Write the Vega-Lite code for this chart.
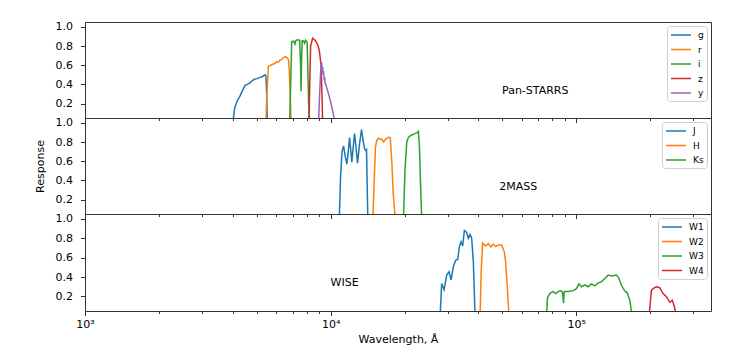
{
  "$schema": "https://vega.github.io/schema/vega-lite/v6.json",
  "padding": {"left": 33, "top": 20, "right": 0, "bottom": 0},
  "spacing": 0,
  "bounds": "flush",
  "config": {
    "font": "DejaVu Sans",
    "view": {"stroke": "#333", "strokeWidth": 1},
    "axis": {"grid": false, "domain": false, "labelFont": "DejaVu Sans", "labelFontSize": 11, "labelColor": "#000", "tickColor": "#333", "titleFont": "DejaVu Sans", "titleFontSize": 11, "titleFontWeight": "normal", "titleColor": "#000", "labelFlush": false},
    "legend": {"orient": "top-right", "offset": 4, "labelFont": "DejaVu Sans", "labelFontSize": 9, "labelColor": "#000", "symbolType": "M-2,0L2,0", "symbolSize": 100, "symbolStrokeWidth": 1.5, "symbolOffset": 5, "labelOffset": 11, "rowPadding": 3.5, "padding": 3, "strokeColor": "#d0d0d0", "fillColor": "#ffffff", "cornerRadius": 3}
  },
  "datasets": {
    "ps": [
      {"band":"g","wl":3996,"resp":0},{"band":"g","wl":4073,"resp":0.16},{"band":"g","wl":4169,"resp":0.23},{"band":"g","wl":4279,"resp":0.28},{"band":"g","wl":4368,"resp":0.33},{"band":"g","wl":4484,"resp":0.39},{"band":"g","wl":4578,"resp":0.40},{"band":"g","wl":4699,"resp":0.415},{"band":"g","wl":4797,"resp":0.44},{"band":"g","wl":4924,"resp":0.456},{"band":"g","wl":5026,"resp":0.46},{"band":"g","wl":5160,"resp":0.473},{"band":"g","wl":5266,"resp":0.48},{"band":"g","wl":5407,"resp":0.50},{"band":"g","wl":5452,"resp":0.49},{"band":"g","wl":5493,"resp":0.3},{"band":"g","wl":5525,"resp":0},
      {"band":"r","wl":5452,"resp":0},{"band":"r","wl":5505,"resp":0.3},{"band":"r","wl":5580,"resp":0.59},{"band":"r","wl":5705,"resp":0.60},{"band":"r","wl":5850,"resp":0.612},{"band":"r","wl":5950,"resp":0.62},{"band":"r","wl":6034,"resp":0.639},{"band":"r","wl":6131,"resp":0.63},{"band":"r","wl":6224,"resp":0.653},{"band":"r","wl":6322,"resp":0.66},{"band":"r","wl":6424,"resp":0.68},{"band":"r","wl":6564,"resp":0.69},{"band":"r","wl":6730,"resp":0.663},{"band":"r","wl":6787,"resp":0.55},{"band":"r","wl":6845,"resp":0.3},{"band":"r","wl":6908,"resp":0},
      {"band":"i","wl":6812,"resp":0},{"band":"i","wl":6896,"resp":0.5},{"band":"i","wl":6943,"resp":0.846},{"band":"i","wl":7072,"resp":0.85},{"band":"i","wl":7159,"resp":0.82},{"band":"i","wl":7227,"resp":0.86},{"band":"i","wl":7344,"resp":0.865},{"band":"i","wl":7482,"resp":0.86},{"band":"i","wl":7552,"resp":0.6},{"band":"i","wl":7581,"resp":0.33},{"band":"i","wl":7610,"resp":0.6},{"band":"i","wl":7659,"resp":0.855},{"band":"i","wl":7768,"resp":0.85},{"band":"i","wl":7841,"resp":0.83},{"band":"i","wl":7901,"resp":0.86},{"band":"i","wl":8027,"resp":0.84},{"band":"i","wl":8087,"resp":0.5},{"band":"i","wl":8141,"resp":0.2},{"band":"i","wl":8216,"resp":0},
      {"band":"z","wl":8164,"resp":0},{"band":"z","wl":8240,"resp":0.5},{"band":"z","wl":8292,"resp":0.8},{"band":"z","wl":8449,"resp":0.881},{"band":"z","wl":8610,"resp":0.865},{"band":"z","wl":8773,"resp":0.836},{"band":"z","wl":8896,"resp":0.80},{"band":"z","wl":8999,"resp":0.75},{"band":"z","wl":9068,"resp":0.68},{"band":"z","wl":9135,"resp":0.612},{"band":"z","wl":9194,"resp":0.4},{"band":"z","wl":9246,"resp":0.2},{"band":"z","wl":9281,"resp":0},
      {"band":"y","wl":8937,"resp":0},{"band":"y","wl":9022,"resp":0.3},{"band":"y","wl":9135,"resp":0.60},{"band":"y","wl":9194,"resp":0.63},{"band":"y","wl":9246,"resp":0.55},{"band":"y","wl":9281,"resp":0.58},{"band":"y","wl":9322,"resp":0.5},{"band":"y","wl":9366,"resp":0.54},{"band":"y","wl":9410,"resp":0.45},{"band":"y","wl":9454,"resp":0.48},{"band":"y","wl":9497,"resp":0.41},{"band":"y","wl":9560,"resp":0.40},{"band":"y","wl":9631,"resp":0.37},{"band":"y","wl":9815,"resp":0.30},{"band":"y","wl":10000,"resp":0.22},{"band":"y","wl":10188,"resp":0.13},{"band":"y","wl":10382,"resp":0.03}
    ],
    "tm": [
      {"band":"J","wl":10850,"resp":0},{"band":"J","wl":10984,"resp":0.45},{"band":"J","wl":11135,"resp":0.70},{"band":"J","wl":11294,"resp":0.76},{"band":"J","wl":11454,"resp":0.66},{"band":"J","wl":11650,"resp":0.57},{"band":"J","wl":11803,"resp":0.70},{"band":"J","wl":11946,"resp":0.846},{"band":"J","wl":12081,"resp":0.72},{"band":"J","wl":12206,"resp":0.59},{"band":"J","wl":12367,"resp":0.75},{"band":"J","wl":12519,"resp":0.887},{"band":"J","wl":12696,"resp":0.74},{"band":"J","wl":12877,"resp":0.58},{"band":"J","wl":13120,"resp":0.78},{"band":"J","wl":13366,"resp":0.93},{"band":"J","wl":13556,"resp":0.82},{"band":"J","wl":13748,"resp":0.73},{"band":"J","wl":13916,"resp":0.71},{"band":"J","wl":14007,"resp":0.72},{"band":"J","wl":14179,"resp":0},
      {"band":"H","wl":14860,"resp":0},{"band":"H","wl":15099,"resp":0.5},{"band":"H","wl":15236,"resp":0.75},{"band":"H","wl":15427,"resp":0.82},{"band":"H","wl":15675,"resp":0.84},{"band":"H","wl":15890,"resp":0.83},{"band":"H","wl":16072,"resp":0.835},{"band":"H","wl":16423,"resp":0.80},{"band":"H","wl":16654,"resp":0.82},{"band":"H","wl":16781,"resp":0.83},{"band":"H","wl":17213,"resp":0.85},{"band":"H","wl":17489,"resp":0.845},{"band":"H","wl":17754,"resp":0.6},{"band":"H","wl":17955,"resp":0.3},{"band":"H","wl":18323,"resp":0},
      {"band":"Ks","wl":19803,"resp":0},{"band":"Ks","wl":20083,"resp":0.5},{"band":"Ks","wl":20428,"resp":0.80},{"band":"Ks","wl":20756,"resp":0.85},{"band":"Ks","wl":21281,"resp":0.87},{"band":"Ks","wl":21743,"resp":0.88},{"band":"Ks","wl":22154,"resp":0.89},{"band":"Ks","wl":22467,"resp":0.895},{"band":"Ks","wl":22785,"resp":0.91},{"band":"Ks","wl":23000,"resp":0.75},{"band":"Ks","wl":23250,"resp":0.35},{"band":"Ks","wl":23502,"resp":0}
    ],
    "wise": [
      {"band":"W1","wl":27925,"resp":0},{"band":"W1","wl":28340,"resp":0.333},{"band":"W1","wl":28989,"resp":0.27},{"band":"W1","wl":29704,"resp":0.42},{"band":"W1","wl":30378,"resp":0.454},{"band":"W1","wl":30955,"resp":0.37},{"band":"W1","wl":31623,"resp":0.506},{"band":"W1","wl":32310,"resp":0.575},{"band":"W1","wl":32924,"resp":0.58},{"band":"W1","wl":33452,"resp":0.713},{"band":"W1","wl":33987,"resp":0.765},{"band":"W1","wl":34501,"resp":0.72},{"band":"W1","wl":35055,"resp":0.88},{"band":"W1","wl":35821,"resp":0.86},{"band":"W1","wl":36397,"resp":0.80},{"band":"W1","wl":36980,"resp":0.84},{"band":"W1","wl":37539,"resp":0.80},{"band":"W1","wl":38140,"resp":0.55},{"band":"W1","wl":38752,"resp":0},
      {"band":"W2","wl":40602,"resp":0},{"band":"W2","wl":41100,"resp":0.5},{"band":"W2","wl":41604,"resp":0.75},{"band":"W2","wl":42788,"resp":0.72},{"band":"W2","wl":43884,"resp":0.745},{"band":"W2","wl":45008,"resp":0.71},{"band":"W2","wl":45983,"resp":0.74},{"band":"W2","wl":46989,"resp":0.715},{"band":"W2","wl":48182,"resp":0.73},{"band":"W2","wl":49693,"resp":0.73},{"band":"W2","wl":50968,"resp":0.66},{"band":"W2","wl":51594,"resp":0.56},{"band":"W2","wl":52420,"resp":0.3},{"band":"W2","wl":53262,"resp":0},
      {"band":"W3","wl":75740,"resp":0},{"band":"W3","wl":76440,"resp":0.19},{"band":"W3","wl":77660,"resp":0.22},{"band":"W3","wl":78910,"resp":0.24},{"band":"W3","wl":80630,"resp":0.25},{"band":"W3","wl":82390,"resp":0.23},{"band":"W3","wl":84510,"resp":0.25},{"band":"W3","wl":86680,"resp":0.26},{"band":"W3","wl":87990,"resp":0.24},{"band":"W3","wl":88820,"resp":0.13},{"band":"W3","wl":89400,"resp":0.25},{"band":"W3","wl":92800,"resp":0.25},{"band":"W3","wl":97230,"resp":0.26},{"band":"W3","wl":100280,"resp":0.28},{"band":"W3","wl":102560,"resp":0.33},{"band":"W3","wl":105080,"resp":0.30},{"band":"W3","wl":108490,"resp":0.32},{"band":"W3","wl":111900,"resp":0.30},{"band":"W3","wl":115420,"resp":0.33},{"band":"W3","wl":119140,"resp":0.31},{"band":"W3","wl":122880,"resp":0.34},{"band":"W3","wl":126730,"resp":0.35},{"band":"W3","wl":130840,"resp":0.385},{"band":"W3","wl":134960,"resp":0.42},{"band":"W3","wl":139180,"resp":0.41},{"band":"W3","wl":145840,"resp":0.42},{"band":"W3","wl":149160,"resp":0.39},{"band":"W3","wl":152850,"resp":0.315},{"band":"W3","wl":157760,"resp":0.256},{"band":"W3","wl":161220,"resp":0.24},{"band":"W3","wl":165350,"resp":0.16},{"band":"W3","wl":168920,"resp":0},
      {"band":"W4","wl":198100,"resp":0},{"band":"W4","wl":202400,"resp":0.26},{"band":"W4","wl":205600,"resp":0.28},{"band":"W4","wl":212100,"resp":0.30},{"band":"W4","wl":218900,"resp":0.29},{"band":"W4","wl":225800,"resp":0.23},{"band":"W4","wl":232800,"resp":0.20},{"band":"W4","wl":240400,"resp":0.14},{"band":"W4","wl":246300,"resp":0.16},{"band":"W4","wl":250900,"resp":0.1},{"band":"W4","wl":255600,"resp":0}
    ]
  },
  "vconcat": [
    {
      "width": 626, "height": 96,
      "encoding": {
        "x": {"field": "wl", "type": "quantitative", "scale": {"type": "log", "domain": [1000, 354000], "nice": false}, "axis": {"title": null, "labels": false, "values": [1000,2000,3000,4000,5000,6000,7000,8000,9000,10000,20000,30000,40000,50000,60000,70000,80000,90000,100000,200000,300000], "tickSize": {"condition": {"test": "datum.value == 1000 || datum.value == 10000 || datum.value == 100000", "value": 4.5}, "value": 2.5}}},
        "y": {"field": "resp", "type": "quantitative", "scale": {"domain": [0.05, 1.05], "nice": false, "zero": false}, "axis": {"title": null, "values": [0.2, 0.4, 0.6, 0.8, 1.0], "format": ".1f", "tickSize": 4.5, "labelPadding": 8}}
      },
      "layer": [
        {"data": {"name": "ps"}, "mark": {"type": "line", "clip": true, "strokeWidth": 1.5},
         "encoding": {"color": {"field": "band", "type": "nominal", "scale": {"domain": ["g","r","i","z","y"], "range": ["#1f77b4","#ff7f0e","#2ca02c","#d62728","#9467bd"]}, "legend": {"title": null}}}},
        {"data": {"values": [{"label": "Pan-STARRS", "wl": 68130, "resp": 0.335}]}, "mark": {"type": "text", "fontSize": 11, "font": "DejaVu Sans", "color": "#000"}, "encoding": {"text": {"field": "label"}}}
      ]
    },
    {
      "width": 626, "height": 96,
      "encoding": {
        "x": {"field": "wl", "type": "quantitative", "scale": {"type": "log", "domain": [1000, 354000], "nice": false}, "axis": {"title": null, "labels": false, "values": [1000,2000,3000,4000,5000,6000,7000,8000,9000,10000,20000,30000,40000,50000,60000,70000,80000,90000,100000,200000,300000], "tickSize": {"condition": {"test": "datum.value == 1000 || datum.value == 10000 || datum.value == 100000", "value": 4.5}, "value": 2.5}}},
        "y": {"field": "resp", "type": "quantitative", "scale": {"domain": [0.05, 1.05], "nice": false, "zero": false}, "axis": {"title": "Response", "titlePadding": 10, "values": [0.2, 0.4, 0.6, 0.8, 1.0], "format": ".1f", "tickSize": 4.5, "labelPadding": 8}}
      },
      "layer": [
        {"data": {"name": "tm"}, "mark": {"type": "line", "clip": true, "strokeWidth": 1.5},
         "encoding": {"color": {"field": "band", "type": "nominal", "scale": {"domain": ["J","H","Ks"], "range": ["#1f77b4","#ff7f0e","#2ca02c"]}, "legend": {"title": null}}}},
        {"data": {"values": [{"label": "2MASS", "wl": 58110, "resp": 0.335}]}, "mark": {"type": "text", "fontSize": 11, "font": "DejaVu Sans", "color": "#000"}, "encoding": {"text": {"field": "label"}}}
      ]
    },
    {
      "width": 626, "height": 97,
      "encoding": {
        "x": {"field": "wl", "type": "quantitative", "scale": {"type": "log", "domain": [1000, 354000], "nice": false}, "axis": {"title": "Wavelength, Å", "titlePadding": 4, "labelPadding": 3, "values": [1000,2000,3000,4000,5000,6000,7000,8000,9000,10000,20000,30000,40000,50000,60000,70000,80000,90000,100000,200000,300000], "labelExpr": "datum.value == 1000 ? '10³' : datum.value == 10000 ? '10⁴' : datum.value == 100000 ? '10⁵' : ''", "tickSize": {"condition": {"test": "datum.value == 1000 || datum.value == 10000 || datum.value == 100000", "value": 4.5}, "value": 2.5}}},
        "y": {"field": "resp", "type": "quantitative", "scale": {"domain": [0.05, 1.05], "nice": false, "zero": false}, "axis": {"title": null, "values": [0.2, 0.4, 0.6, 0.8, 1.0], "format": ".1f", "tickSize": 4.5, "labelPadding": 8}}
      },
      "layer": [
        {"data": {"name": "wise"}, "mark": {"type": "line", "clip": true, "strokeWidth": 1.5},
         "encoding": {"color": {"field": "band", "type": "nominal", "scale": {"domain": ["W1","W2","W3","W4"], "range": ["#1f77b4","#ff7f0e","#2ca02c","#d62728"]}, "legend": {"title": null}}}},
        {"data": {"values": [{"label": "WISE", "wl": 11400, "resp": 0.335}]}, "mark": {"type": "text", "fontSize": 11, "font": "DejaVu Sans", "color": "#000"}, "encoding": {"text": {"field": "label"}}}
      ]
    }
  ],
  "resolve": {"scale": {"color": "independent"}}
}
